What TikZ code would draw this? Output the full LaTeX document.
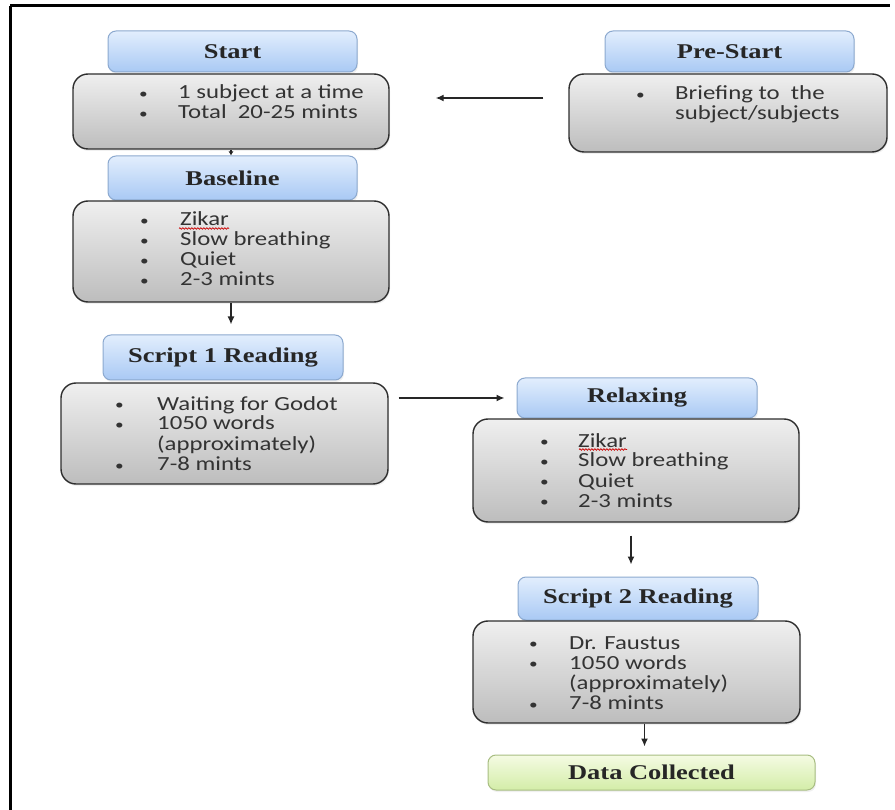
\documentclass[tikz,border=0pt]{standalone}
\usepackage{fontspec}
\setmainfont{Carlito}[FakeStretch=1.24]
\newfontfamily\hdfont{Liberation Serif}[FakeStretch=1.26]
\usetikzlibrary{arrows.meta,shadows,decorations.pathmorphing}
\definecolor{hdtop}{HTML}{E2EEFD}
\definecolor{hdbot}{HTML}{A9C9F4}
\definecolor{hdline}{HTML}{8CA9CF}
\definecolor{bdtop}{HTML}{EFEFEF}
\definecolor{bdbot}{HTML}{BDBDBD}
\definecolor{bdline}{HTML}{2E2E2E}
\definecolor{gntop}{HTML}{F5FBE3}
\definecolor{gnbot}{HTML}{D3EDA8}
\definecolor{gnline}{HTML}{A8BD82}
\newcommand\bul[2]{\makebox[#1pt][l]{\fontsize{14}{14}\selectfont\raisebox{0.5pt}{•}}#2}
\begin{document}
\begin{tikzpicture}[x=1pt,y=-1pt,
  hdbox/.style={draw=hdline, line width=1pt, rounded corners=8pt, top color=hdtop, bottom color=hdbot,
    inner sep=0pt, font=\hdfont\bfseries\fontsize{21}{21}\selectfont, text=black!85,
    drop shadow={opacity=0.12, shadow xshift=1pt, shadow yshift=-2pt}},
  bdbox/.style={draw=bdline, line width=1.4pt, rounded corners=15pt, top color=bdtop, bottom color=bdbot,
    inner sep=0pt, drop shadow={opacity=0.12, shadow xshift=1pt, shadow yshift=-2pt}},
  gnbox/.style={draw=gnline, line width=1pt, rounded corners=8pt, top color=gntop, bottom color=gnbot,
    inner sep=0pt, font=\hdfont\bfseries\fontsize{21}{21}\selectfont, text=black!85,
    drop shadow={opacity=0.12, shadow xshift=1pt, shadow yshift=-2pt}},
  txt/.style={anchor=base west, inner sep=0pt, font=\fontsize{20}{20}\selectfont, text=black!80},
  arr/.style={line width=1.4pt, draw=black!85, -{Latex[length=8pt,width=7pt]}},
  frame/.style={line width=3pt, draw=black}
]
\useasboundingbox (0,0) rectangle (895,810);
\draw[frame] (10,6) -- (890,6);
\draw[frame] (10,6) -- (10,810);

% Start
\node[hdbox, minimum width=249pt, minimum height=41pt] (shead) at (232.5,51.5) {Start};
\node[bdbox, minimum width=316pt, minimum height=75pt] (sbody) at (231,111.5) {};
\node[txt] (stxt) at (139,99) {\begin{tabular}[t]{@{}l@{}}\bul{39}{1 subject at a time}\\ \bul{39}{Total\ \ 20-25 mints}\end{tabular}};

% Pre-Start
\node[hdbox, minimum width=249pt, minimum height=41pt] (phead) at (729.5,51.5) {Pre-Start};
\node[bdbox, minimum width=318pt, minimum height=78pt] (pbody) at (728,113) {};
\node[txt] (ptxt) at (636,100) {\begin{tabular}[t]{@{}l@{}}\bul{39}{Briefing to\ \ the}\\ \hspace*{39pt}subject/subjects\end{tabular}};

% Baseline
\node[hdbox, minimum width=249pt, minimum height=44pt] (bhead) at (232.5,178) {Baseline};
\node[bdbox, minimum width=316pt, minimum height=101pt] (bbody) at (231,251.5) {};
\node[txt] (btxt) at (140,226) {\begin{tabular}[t]{@{}l@{}}\bul{40}{Zikar}\\ \bul{40}{Slow breathing}\\ \bul{40}{Quiet}\\ \bul{40}{2-3 mints}\end{tabular}};

% Script 1
\node[hdbox, minimum width=240pt, minimum height=45pt] (s1head) at (223,357.5) {Script 1 Reading};
\node[bdbox, minimum width=327pt, minimum height=101pt] (s1body) at (224.5,433.5) {};
\node[txt] (s1txt) at (115,410) {\begin{tabular}[t]{@{}l@{}}\bul{42}{Waiting for Godot}\\ \bul{42}{1050 words}\\ \hspace*{42pt}(approximately)\\ \bul{42}{7-8 mints}\end{tabular}};

% Relaxing
\node[hdbox, minimum width=240pt, minimum height=40pt] (rhead) at (637,398) {Relaxing};
\node[bdbox, minimum width=326pt, minimum height=103pt] (rbody) at (636,470.5) {};
\node[txt] (rtxt) at (540,447) {\begin{tabular}[t]{@{}l@{}}\bul{38}{Zikar}\\ \bul{38}{Slow breathing}\\ \bul{38}{Quiet}\\ \bul{38}{2-3 mints}\end{tabular}};

% Script 2
\node[hdbox, minimum width=240pt, minimum height=43pt] (s2head) at (638,598.5) {Script 2 Reading};
\node[bdbox, minimum width=327pt, minimum height=102pt] (s2body) at (636.5,672) {};
\node[txt] (s2txt) at (529,649) {\begin{tabular}[t]{@{}l@{}}\bul{40}{Dr. Faustus}\\ \bul{40}{1050 words}\\ \hspace*{40pt}(approximately)\\ \bul{40}{7-8 mints}\end{tabular}};

% Data collected
\node[gnbox, minimum width=327pt, minimum height=35pt] (data) at (651.5,772.5) {Data Collected};

% spell-check underlines
\draw[red!80!black, line width=0.7pt, decorate, decoration={snake, amplitude=0.8pt, segment length=3pt}] (179,228.5) -- (229,228.5);
\draw[red!80!black, line width=0.7pt, decorate, decoration={snake, amplitude=0.8pt, segment length=3pt}] (579,449.5) -- (627,449.5);

% connectors
\draw[arr] ([shift={(-25pt,15pt)}]pbody.west) -- ([shift={(46pt,13.5pt)}]sbody.east);
\draw[arr, -{Latex[length=4pt,width=5pt]}] (sbody.south) -- (sbody.south |- bhead.north);
\draw[arr, shorten >=10pt] (bbody.south) -- (bbody.south |- s1head.north);
\draw[arr, shorten <=10pt, shorten >=12pt] (s1body.east |- rhead.west) -- (rhead.west);
\draw[arr, shorten <=13pt, shorten >=12pt] ([xshift=-5pt]rbody.south) -- ([xshift=-5pt]rbody.south |- s2head.north);
\draw[arr, shorten >=8pt] ([xshift=8pt]s2body.south) -- ([xshift=8pt]s2body.south |- data.north);
\end{tikzpicture}
\end{document}
